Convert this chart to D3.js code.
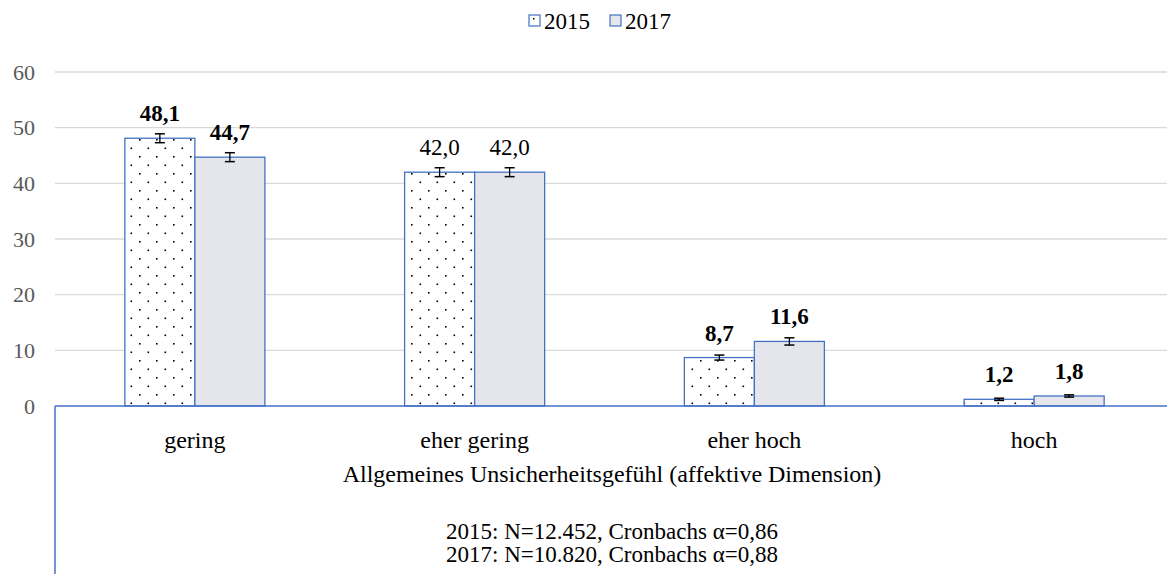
<!DOCTYPE html>
<html>
<head>
<meta charset="utf-8">
<script src="https://cdn.jsdelivr.net/npm/d3@7"></script>
<style>
  body { margin: 0; background: #fff; }
  svg text { font-family: "Liberation Serif", "Times New Roman", serif; }
</style>
</head>
<body>
<div id="chart"></div>
<script>
// data
const categories = ['gering', 'eher gering', 'eher hoch', 'hoch'];
const years = ['2015', '2017'];
const values2015 = [48.1, 42.0, 8.7, 1.2];
const values2017 = [44.7, 42.0, 11.6, 1.8];
const err2015 = [0.8, 0.8, 0.45, 0.2];
const err2017 = [0.8, 0.8, 0.65, 0.2];
const boldLabel = [true, false, true, true];
const yTicks = [0, 10, 20, 30, 40, 50, 60];
const xTitle = 'Allgemeines Unsicherheitsgefühl (affektive Dimension)';
const notes = ['2015: N=12.452, Cronbachs α=0,86', '2017: N=10.820, Cronbachs α=0,88'];

const width = 1167, height = 574;
const margin = {left: 55, top: 72, bottom: 168};
const plotRight = 1174; // plot area runs a bit past the picture edge
const blue = '#4472c4';

const svg = d3.select('#chart').append('svg')
    .attr('width', width)
    .attr('height', height);

const defs = svg.append('defs');
const pat = defs.append('pattern')
    .attr('id', 'dots')
    .attr('patternUnits', 'userSpaceOnUse')
    .attr('width', 17).attr('height', 17);
pat.append('rect').attr('width', 17).attr('height', 17).attr('fill', '#fff');
pat.append('rect').attr('x', 3).attr('y', 3).attr('width', 1.6).attr('height', 1.6).attr('fill', '#000');
pat.append('rect').attr('x', 11.5).attr('y', 11.5).attr('width', 1.6).attr('height', 1.6).attr('fill', '#000');

const fills = ['url(#dots)', '#e4e6eb'];

const x = d3.scaleBand()
    .domain(categories)
    .range([margin.left, plotRight])
    .paddingInner(0.4994)
    .paddingOuter(0.2497);

const xSub = d3.scaleBand()
    .domain(years)
    .range([0, x.bandwidth()]);

const y = d3.scaleLinear()
    .domain([0, 60])
    .range([height - margin.bottom, margin.top]);

// gridlines
svg.append('g').selectAll('line')
    .data(yTicks.filter(d => d > 0))
    .join('line')
    .attr('x1', margin.left).attr('x2', width)
    .attr('y1', d => y(d)).attr('y2', d => y(d))
    .attr('stroke', '#d9d9d9').attr('stroke-width', 1.3);

// y tick labels
svg.append('g').selectAll('text')
    .data(yTicks)
    .join('text')
    .attr('x', 35)
    .attr('y', d => y(d))
    .attr('dy', '0.35em')
    .attr('text-anchor', 'end')
    .attr('fill', '#595959')
    .style('font-size', '22px')
    .text(d => d);

// bars
const series = [values2015, values2017];
const errs = [err2015, err2017];
const rows = [];
categories.forEach((c, i) => {
  years.forEach((yr, j) => {
    rows.push({cat: c, year: yr, j: j, value: series[j][i], err: errs[j][i], bold: boldLabel[i]});
  });
});

const bars = svg.append('g').selectAll('g')
    .data(rows)
    .join('g');

bars.append('rect')
    .attr('x', d => x(d.cat) + xSub(d.year))
    .attr('y', d => y(d.value))
    .attr('width', xSub.bandwidth())
    .attr('height', d => y(0) - y(d.value))
    .attr('fill', d => fills[d.j])
    .attr('stroke', blue)
    .attr('stroke-width', 1.3);

// error bars
const cx = d => x(d.cat) + xSub(d.year) + xSub.bandwidth() / 2;
bars.append('line')
    .attr('x1', cx).attr('x2', cx)
    .attr('y1', d => y(d.value + d.err)).attr('y2', d => y(d.value - d.err))
    .attr('stroke', '#000').attr('stroke-width', 1.3);
[1, -1].forEach(s => {
  bars.append('line')
      .attr('x1', d => cx(d) - 5).attr('x2', d => cx(d) + 5)
      .attr('y1', d => y(d.value + s * d.err)).attr('y2', d => y(d.value + s * d.err))
      .attr('stroke', '#000').attr('stroke-width', 1.5);
});

// value labels
bars.append('text')
    .attr('x', cx)
    .attr('y', d => y(d.value) - 17)
    .attr('text-anchor', 'middle')
    .style('font-size', '23px')
    .style('font-weight', d => d.bold ? 'bold' : 'normal')
    .text(d => d3.format('.1f')(d.value).replace('.', ','));

// axis lines
svg.append('line')
    .attr('x1', margin.left).attr('x2', width)
    .attr('y1', y(0)).attr('y2', y(0))
    .attr('stroke', blue).attr('stroke-width', 1.5);
svg.append('line')
    .attr('x1', margin.left).attr('x2', margin.left)
    .attr('y1', y(0)).attr('y2', height)
    .attr('stroke', blue).attr('stroke-width', 1.5);

// category labels
svg.append('g').selectAll('text')
    .data(categories)
    .join('text')
    .attr('x', d => x(d) + x.bandwidth() / 2)
    .attr('y', 448)
    .attr('text-anchor', 'middle')
    .style('font-size', '24px')
    .text(d => d);

const midX = 612;
svg.append('text')
    .attr('x', midX).attr('y', 482)
    .attr('text-anchor', 'middle')
    .style('font-size', '24px')
    .text(xTitle);

svg.append('g').selectAll('text')
    .data(notes)
    .join('text')
    .attr('x', midX)
    .attr('y', (d, i) => 539 + i * 23)
    .attr('text-anchor', 'middle')
    .style('font-size', '23px')
    .text(d => d);

// legend
const legendX = [529, 610];
const legend = svg.append('g').attr('transform', 'translate(0,21)');
years.forEach((yr, j) => {
  const g = legend.append('g').attr('transform', `translate(${legendX[j]},0)`);
  g.append('rect')
      .attr('x', 0).attr('y', -6)
      .attr('width', 11).attr('height', 11)
      .attr('fill', j === 0 ? '#fff' : fills[1])
      .attr('stroke', blue).attr('stroke-width', 1.2);
  if (j === 0) {
    g.append('rect').attr('x', 4).attr('y', -3).attr('width', 1.5).attr('height', 1.5).attr('fill', '#000');
  }
  g.append('text')
      .attr('x', 15).attr('y', 0).attr('dy', '0.35em')
      .style('font-size', '23px')
      .text(yr);
});
</script>
</body>
</html>
